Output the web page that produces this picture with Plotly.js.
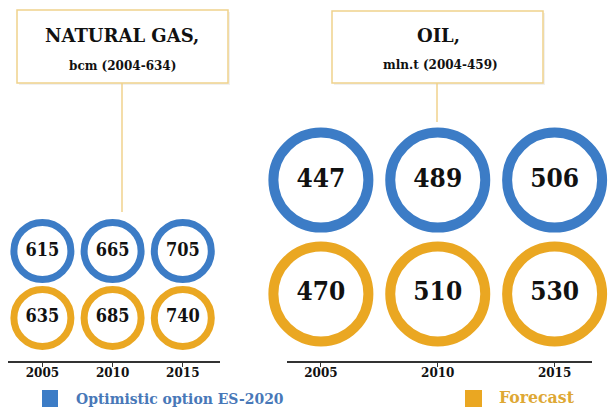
<!DOCTYPE html>
<html>
<head>
<meta charset="utf-8">
<script src="https://cdn.plot.ly/plotly-3.0.1.min.js"></script>
<style>html,body{margin:0;padding:0;background:#fff;}#chart{width:613px;height:409px;}</style>
</head>
<body>
<div id="chart"></div>
<script>
// ---- data ----
const years = ['2005', '2010', '2015'];
const seriesNames = ['Optimistic option ES-2020', 'Forecast'];
const gasOptimistic = [615, 665, 705];
const gasForecast = [635, 685, 740];
const oilOptimistic = [447, 489, 506];
const oilForecast = [470, 510, 530];
const gasTitle = 'NATURAL GAS,';
const gasSubtitle = 'bcm (2004-634)';
const oilTitle = 'OIL,';
const oilSubtitle = 'mln.t (2004-459)';

// ---- style ----
const W = 613, H = 409;
const BLUE = 'rgb(60,124,198)';
const ORANGE = 'rgb(234,167,34)';
const BOX = 'rgb(240,210,140)';
const SERIF = 'DejaVu Serif';
const COND = 'DejaVu Serif Condensed, DejaVu Serif';
const X = px => px / W;
const Y = py => 1 - py / H;

function ringTrace(vals, name, color, xa, ya, size, lw, fs) {
  return {
    type: 'scatter', mode: 'markers+text',
    x: years, y: years.map(() => name),
    xaxis: xa, yaxis: ya,
    text: vals.map(v => '<b>' + v + '</b>'),
    textposition: 'middle center',
    textfont: {family: COND, size: fs, color: '#111'},
    marker: {symbol: 'circle', size: size, color: 'white', line: {color: color, width: lw}},
    cliponaxis: false, showlegend: false, hoverinfo: 'skip'
  };
}

const data = [
  ringTrace(gasOptimistic, seriesNames[0], BLUE, 'x', 'y', 57, 7, 18),
  ringTrace(gasForecast, seriesNames[1], ORANGE, 'x', 'y', 57, 7, 18),
  ringTrace(oilOptimistic, seriesNames[0], BLUE, 'x2', 'y2', 95, 10, 26),
  ringTrace(oilForecast, seriesNames[1], ORANGE, 'x2', 'y2', 95, 10, 26)
];

const xCommon = {
  type: 'category', showline: true, linecolor: '#333', linewidth: 2,
  ticks: 'outside', ticklen: 4, tickcolor: '#333', tickwidth: 1,
  ticklabelstandoff: -4,
  showgrid: false, zeroline: false, fixedrange: true,
  tickvals: years, ticktext: years.map(y => '<b>' + y + '</b>'),
  tickfont: {family: SERIF, size: 12, color: '#111'}
};
const yCommon = {
  type: 'category', categoryorder: 'array', categoryarray: [seriesNames[1], seriesNames[0]],
  visible: false, showgrid: false, zeroline: false, fixedrange: true,
  domain: [Y(361), Y(20)]
};

function boldAnn(x, y, text, size, color, xanchor, fam) {
  return {xref: 'paper', yref: 'paper', x: X(x), y: Y(y), text: '<b>' + text + '</b>', showarrow: false,
          xanchor: xanchor || 'center', yanchor: 'middle', font: {family: fam || SERIF, size: size, color: color || '#111'}};
}

const layout = {
  width: W, height: H,
  margin: {l: 0, r: 0, t: 0, b: 0},
  paper_bgcolor: 'white', plot_bgcolor: 'white',
  showlegend: false,
  xaxis: Object.assign({}, xCommon, {domain: [X(8), X(220)], anchor: 'y', range: [-0.49, 2.53]}),
  yaxis: Object.assign({}, yCommon, {anchor: 'x', range: [-0.642, 4.448]}),
  xaxis2: Object.assign({}, xCommon, {domain: [X(287), X(592)], anchor: 'y2', range: [-0.29, 2.32]}),
  yaxis2: Object.assign({}, yCommon, {anchor: 'x2', range: [-0.588, 2.404]}),
  shapes: [
    {type: 'rect', xref: 'paper', yref: 'paper', x0: X(19), x1: X(230), y0: Y(85), y1: Y(12), line: {width: 0}, fillcolor: 'rgba(0,0,0,0.06)', layer: 'below'},
    {type: 'rect', xref: 'paper', yref: 'paper', x0: X(334), x1: X(545), y0: Y(85), y1: Y(13), line: {width: 0}, fillcolor: 'rgba(0,0,0,0.06)', layer: 'below'},
    {type: 'rect', xref: 'paper', yref: 'paper', x0: X(17), x1: X(228), y0: Y(83), y1: Y(10), line: {color: BOX, width: 1.5}, fillcolor: 'white'},
    {type: 'rect', xref: 'paper', yref: 'paper', x0: X(332), x1: X(543), y0: Y(83), y1: Y(11), line: {color: BOX, width: 1.5}, fillcolor: 'white'},
    {type: 'line', xref: 'paper', yref: 'paper', x0: X(122), x1: X(122), y0: Y(83), y1: Y(212), line: {color: BOX, width: 1.5}},
    {type: 'line', xref: 'paper', yref: 'paper', x0: X(437), x1: X(437), y0: Y(83), y1: Y(122), line: {color: BOX, width: 1.5}},
    {type: 'rect', xref: 'paper', yref: 'paper', x0: X(42), x1: X(58), y0: Y(407), y1: Y(390), line: {width: 0}, fillcolor: BLUE},
    {type: 'rect', xref: 'paper', yref: 'paper', x0: X(465), x1: X(482), y0: Y(407), y1: Y(390), line: {width: 0}, fillcolor: ORANGE}
  ],
  annotations: [
    boldAnn(122, 36, gasTitle, 18),
    boldAnn(122, 66, gasSubtitle, 12),
    boldAnn(438, 36, oilTitle, 18),
    boldAnn(440, 65, oilSubtitle, 12),
    boldAnn(74, 398, seriesNames[0], 15.5, 'rgb(72,120,184)', 'left', COND),
    boldAnn(497, 397, seriesNames[1], 17.5, 'rgb(222,168,52)', 'left', COND)
  ]
};

Plotly.newPlot('chart', data, layout, {displayModeBar: false, staticPlot: true});
</script>
</body>
</html>
